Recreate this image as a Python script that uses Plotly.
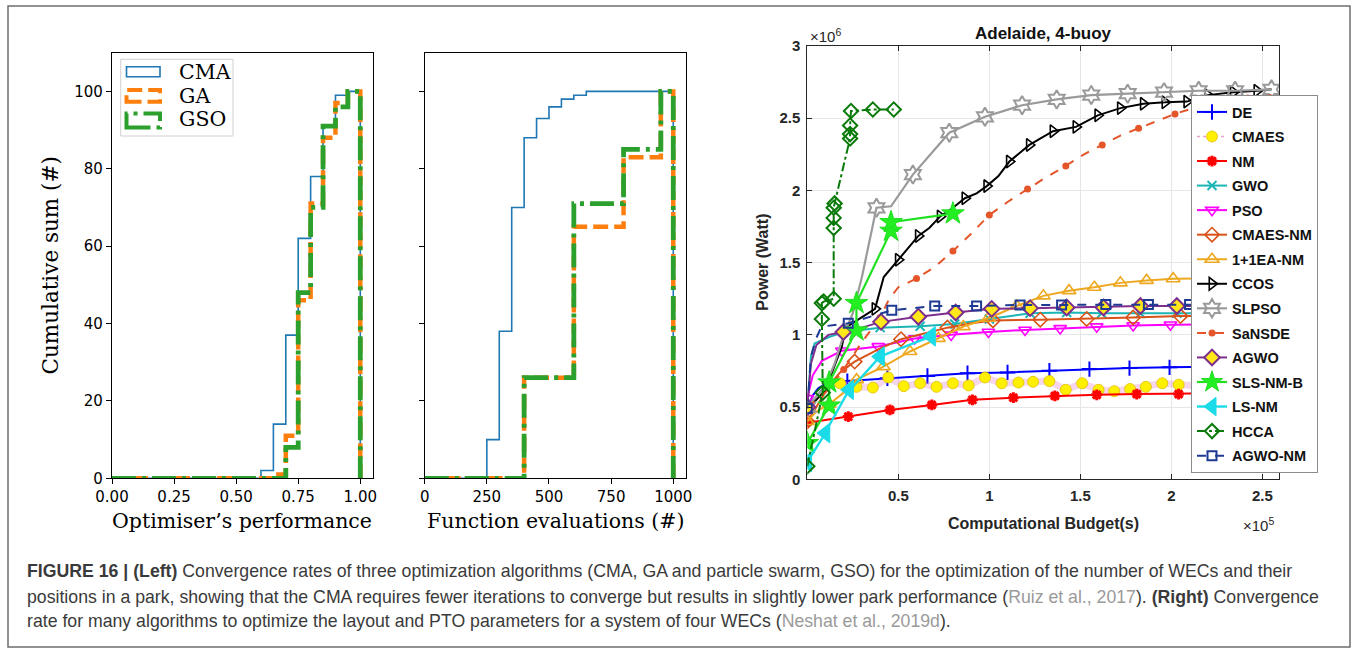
import plotly.graph_objects as go

W, H = 1358, 650

# ---------------- Left panel: cumulative histograms over optimiser's performance
perf_edges = [0.00, 0.05, 0.10, 0.15, 0.20, 0.25, 0.30, 0.35, 0.40, 0.45, 0.50,
              0.55, 0.60, 0.65, 0.70, 0.75, 0.80, 0.85, 0.90, 0.95, 1.00]
perf_cma = [0, 0, 0, 0, 0, 0, 0, 0, 0, 0, 0, 0, 2, 14, 37, 62, 78, 91, 99, 100]
perf_ga = [0, 0, 0, 0, 0, 0, 0, 0, 0, 0, 0, 0, 0, 1, 11, 46, 71, 88, 97, 100]
perf_gso = [0, 0, 0, 0, 0, 0, 0, 0, 0, 0, 0, 0, 0, 0, 8, 48, 70, 91, 96, 100]

# ---------------- Middle panel: cumulative histograms over function evaluations
eval_edges = [0, 50, 100, 150, 200, 250, 300, 350, 400, 450, 500,
              550, 600, 650, 700, 750, 800, 850, 900, 950, 1000]
eval_cma = [0, 0, 0, 0, 0, 10, 38, 70, 88, 93, 96, 98, 99, 100, 100, 100, 100, 100, 100, 100]
eval_ga = [0, 0, 0, 0, 0, 0, 0, 0, 26, 26, 26, 26, 65, 65, 65, 65, 83, 83, 83, 100]
eval_gso = [0, 0, 0, 0, 0, 0, 0, 0, 26, 26, 26, 26, 71, 71, 71, 71, 85, 85, 85, 100]

hist_names = ["CMA", "GA", "GSO"]
cum_ticks = [0, 20, 40, 60, 80, 100]
perf_ticks = [0.0, 0.25, 0.5, 0.75, 1.0]
perf_ticktext = ["0.00", "0.25", "0.50", "0.75", "1.00"]
eval_ticks = [0, 250, 500, 750, 1000]

# ---------------- Right panel: power (x10^6 W) vs computational budget (x10^5 s)
de_x = [0.0, 0.03, 0.06, 0.1, 0.22, 0.44, 0.66, 0.88, 1.1, 1.33, 1.55, 1.77, 1.99, 2.21, 2.43, 2.55]
de_y = [0.49, 0.58, 0.63, 0.66, 0.68, 0.70, 0.715, 0.735, 0.74, 0.752, 0.763, 0.77, 0.775, 0.78, 0.785, 0.785]
de_mk = [4, 5, 6, 7, 8, 9, 10, 11, 12, 13, 14]

cmaes_x = [0.1, 0.18, 0.27, 0.36, 0.445, 0.53, 0.62, 0.71, 0.8, 0.886, 0.976, 1.068, 1.16, 1.24,
           1.33, 1.42, 1.51, 1.6, 1.686, 1.773, 1.86, 1.95, 2.04, 2.13]
cmaes_y = [0.66, 0.665, 0.64, 0.635, 0.705, 0.645, 0.665, 0.64, 0.665, 0.65, 0.705, 0.665, 0.67, 0.675,
           0.68, 0.62, 0.665, 0.62, 0.61, 0.625, 0.64, 0.665, 0.655, 0.65]
cmaes_mk = list(range(1, 23))

nm_x = [0.0, 0.05, 0.1, 0.225, 0.454, 0.684, 0.907, 1.132, 1.36, 1.59, 1.81, 2.04, 2.27, 2.5, 2.55]
nm_y = [0.4, 0.4, 0.41, 0.434, 0.48, 0.515, 0.55, 0.565, 0.577, 0.585, 0.59, 0.59, 0.595, 0.6, 0.6]
nm_mk = [0, 3, 4, 5, 6, 7, 8, 9, 10, 11, 12, 13]

gwo_x = [0.0, 0.02, 0.04, 0.12, 0.2, 0.4, 0.62, 0.81, 1.0, 1.224, 1.425, 1.617, 1.83, 2.03, 2.24, 2.45, 2.55]
gwo_y = [0.5, 0.85, 0.94, 0.985, 1.02, 1.05, 1.06, 1.075, 1.11, 1.15, 1.155, 1.15, 1.15, 1.15, 1.15, 1.15, 1.15]
gwo_mk = [4, 5, 6, 7, 8, 9, 10, 11, 12, 13, 14, 15]

pso_x = [0.0, 0.03, 0.08, 0.19, 0.39, 0.59, 0.79, 0.995, 1.196, 1.389, 1.59, 1.79, 1.995, 2.2, 2.4, 2.55]
pso_y = [0.56, 0.72, 0.82, 0.89, 0.92, 0.975, 1.0, 1.02, 1.034, 1.045, 1.057, 1.065, 1.07, 1.07, 1.075, 1.075]
pso_mk = [0, 3, 4, 5, 6, 7, 8, 9, 10, 11, 12, 13, 14]

cmaesnm_x = [0.0, 0.05, 0.12, 0.18, 0.26, 0.39, 0.515, 0.64, 0.77, 0.9, 1.02, 1.28, 1.535, 1.79, 2.05, 2.3, 2.55]
cmaesnm_y = [0.4, 0.5, 0.65, 0.74, 0.815, 0.9, 0.97, 1.01, 1.05, 1.08, 1.1, 1.105, 1.11, 1.12, 1.13, 1.13, 1.13]
cmaesnm_mk = [0, 4, 6, 8, 10, 11, 12, 13, 14, 15]

ea_x = [0.0, 0.05, 0.12, 0.2, 0.271, 0.418, 0.564, 0.72, 0.857, 0.995, 1.15, 1.297, 1.438, 1.577,
        1.72, 1.864, 2.01, 2.16, 2.31, 2.55]
ea_y = [0.4, 0.47, 0.52, 0.6, 0.69, 0.78, 0.885, 0.976, 1.057, 1.115, 1.2, 1.27, 1.306, 1.33,
        1.36, 1.377, 1.389, 1.39, 1.39, 1.39]
ea_mk = [0, 2, 4, 5, 6, 7, 8, 9, 10, 11, 12, 13, 14, 15, 16, 17, 18]

ccos_x = [0.0, 0.05, 0.1, 0.15, 0.19, 0.21, 0.26, 0.34, 0.372, 0.42, 0.5, 0.55, 0.61, 0.67, 0.73, 0.8,
          0.866, 0.93, 0.986, 1.05, 1.11, 1.22, 1.35, 1.476, 1.596, 1.72, 1.846, 1.965, 2.085, 2.2,
          2.34, 2.47, 2.55]
ccos_y = [0.5, 0.55, 0.62, 0.79, 0.92, 1.05, 1.09, 1.15, 1.18, 1.4, 1.52, 1.6, 1.685, 1.74, 1.82, 1.88,
          1.946, 1.98, 2.03, 2.1, 2.2, 2.315, 2.41, 2.44, 2.52, 2.57, 2.6, 2.61, 2.615, 2.66,
          2.68, 2.69, 2.70]
ccos_mk = [8, 10, 12, 14, 16, 18, 20, 21, 22, 23, 24, 25, 26, 27, 28, 29, 30, 31]

slpso_x = [0.0, 0.1, 0.15, 0.2, 0.25, 0.3, 0.38, 0.46, 0.58, 0.78, 0.976, 1.18, 1.37, 1.56, 1.76,
           1.96, 2.15, 2.35, 2.55]
slpso_y = [0.5, 0.65, 0.8, 1.0, 1.15, 1.4, 1.88, 1.89, 2.11, 2.4, 2.51, 2.59, 2.63, 2.66, 2.67,
           2.68, 2.69, 2.69, 2.70]
slpso_mk = [0, 6, 8, 9, 10, 11, 12, 13, 14, 15, 16, 17, 18]

sansde_x = [0.0, 0.1, 0.2, 0.3, 0.4, 0.45, 0.5, 0.6, 0.7, 0.8, 0.9, 1.0, 1.1, 1.21, 1.31, 1.42, 1.52,
            1.62, 1.72, 1.82, 1.92, 2.02, 2.12, 2.22, 2.32, 2.42, 2.55]
sansde_y = [0.5, 0.6, 0.76, 0.95, 1.12, 1.25, 1.33, 1.39, 1.47, 1.58, 1.7, 1.83, 1.92, 2.01, 2.09,
            2.17, 2.25, 2.315, 2.38, 2.43, 2.48, 2.53, 2.57, 2.6, 2.62, 2.64, 2.66]
sansde_mk = [2, 4, 7, 9, 11, 13, 15, 17, 19, 21, 23, 25]

agwo_x = [0.0, 0.02, 0.05, 0.116, 0.198, 0.3, 0.405, 0.61, 0.815, 1.013, 1.224, 1.425, 1.627, 1.83,
          2.03, 2.23, 2.43, 2.55]
agwo_y = [0.5, 0.8, 0.93, 1.0, 1.02, 1.05, 1.09, 1.126, 1.155, 1.18, 1.185, 1.19, 1.19, 1.2,
          1.2, 1.2, 1.2, 1.2]
agwo_mk = [0, 4, 6, 7, 8, 9, 10, 11, 12, 13, 14, 15, 16]

slsnmb_x = [0.0, 0.12, 0.12, 0.27, 0.27, 0.46, 0.46, 0.8]
slsnmb_y = [0.25, 0.51, 0.67, 1.03, 1.22, 1.72, 1.78, 1.84]
slsnmb_mk = [0, 1, 2, 3, 4, 5, 6, 7]

lsnm_x = [0.0, 0.1, 0.11, 0.23, 0.25, 0.4, 0.46, 0.68]
lsnm_y = [0.12, 0.32, 0.35, 0.62, 0.64, 0.85, 0.88, 0.99]
lsnm_mk = [0, 1, 3, 5, 7]

hcca_x = [0.0, 0.085, 0.08, 0.08, 0.09, 0.145, 0.145, 0.145, 0.145, 0.15, 0.235, 0.235, 0.235,
          0.24, 0.36, 0.475]
hcca_y = [0.09, 0.6, 1.11, 1.22, 1.23, 1.25, 1.74, 1.81, 1.88, 1.91, 2.36, 2.39, 2.45,
          2.55, 2.56, 2.56]
hcca_mk = list(range(16))

agwonm_x = [0.0, 0.01, 0.02, 0.05, 0.078, 0.225, 0.464, 0.70, 0.93, 1.169, 1.397, 1.64, 1.874,
            2.1, 2.33, 2.55]
agwonm_y = [0.49, 0.7, 0.85, 0.98, 1.057, 1.08, 1.17, 1.2, 1.2, 1.207, 1.207, 1.21, 1.21,
            1.21, 1.21, 1.21]
agwonm_mk = [0, 5, 6, 7, 8, 9, 10, 11, 12, 13, 14]

power_ticks = [0, 0.5, 1, 1.5, 2, 2.5, 3]
power_ticktext = ["0", "0.5", "1", "1.5", "2", "2.5", "3"]
budget_ticks = [0.5, 1, 1.5, 2, 2.5]
budget_ticktext = ["0.5", "1", "1.5", "2", "2.5"]

# ---------------- styles
hist_styles = {
    "CMA": dict(color="#1f77b4", width=1.6, dash="solid"),
    "GA": dict(color="#ff7f0e", width=4.5, dash="15px,6px"),
    "GSO": dict(color="#2ca02c", width=4.8, dash="24px,6px,4px,6px"),
}

series = [
    ("DE", de_x, de_y, de_mk, dict(color="#0000FF", width=2, dash="solid"),
     dict(symbol="cross-thin-open", size=11, color="#0000FF", line=dict(color="#0000FF", width=2))),
    ("CMAES", cmaes_x, cmaes_y, cmaes_mk, dict(color="rgba(225,120,190,0.30)", width=7, dash="solid"),
     dict(symbol="circle", size=11, color="#FFF000", line=dict(color="#E0C000", width=0.8))),
    ("NM", nm_x, nm_y, nm_mk, dict(color="#FF0000", width=2, dash="solid"),
     dict(symbol="asterisk-open", size=9, color="#FF0000", line=dict(color="#FF0000", width=3))),
    ("GWO", gwo_x, gwo_y, gwo_mk, dict(color="#1CB5B5", width=2, dash="solid"),
     dict(symbol="x-thin-open", size=9, color="#1CB5B5", line=dict(color="#1CB5B5", width=2))),
    ("PSO", pso_x, pso_y, pso_mk, dict(color="#FF00FF", width=2, dash="solid"),
     dict(symbol="triangle-down-open", size=11, color="#FF00FF", line=dict(color="#FF00FF", width=1.6))),
    ("CMAES-NM", cmaesnm_x, cmaesnm_y, cmaesnm_mk, dict(color="#D95319", width=2, dash="solid"),
     dict(symbol="diamond-open", size=11, color="#D95319", line=dict(color="#D95319", width=1.6))),
    ("1+1EA-NM", ea_x, ea_y, ea_mk, dict(color="#EDA820", width=2, dash="solid"),
     dict(symbol="triangle-up-open", size=12, color="#EDA820", line=dict(color="#EDA820", width=1.6))),
    ("CCOS", ccos_x, ccos_y, ccos_mk, dict(color="#000000", width=2, dash="solid"),
     dict(symbol="triangle-right-open", size=11, color="#000000", line=dict(color="#000000", width=1.6))),
    ("SLPSO", slpso_x, slpso_y, slpso_mk, dict(color="#9A9A9A", width=2.2, dash="solid"),
     dict(symbol="hexagram-open", size=14, color="#9A9A9A", line=dict(color="#9A9A9A", width=2))),
    ("SaNSDE", sansde_x, sansde_y, sansde_mk, dict(color="#E4562A", width=2, dash="dash"),
     dict(symbol="circle", size=7, color="#E4562A", line=dict(width=0))),
    ("AGWO", agwo_x, agwo_y, agwo_mk, dict(color="#7E2F8E", width=2, dash="solid"),
     dict(symbol="diamond", size=12, color="#FFE81A", line=dict(color="#7E2F8E", width=2))),
    ("SLS-NM-B", slsnmb_x, slsnmb_y, slsnmb_mk, dict(color="#22E022", width=2.2, dash="solid"),
     dict(symbol="star", size=17, color="#22EE22", line=dict(color="#22DD22", width=1))),
    ("LS-NM", lsnm_x, lsnm_y, lsnm_mk, dict(color="#1ADCE8", width=2.4, dash="solid"),
     dict(symbol="triangle-left", size=17, color="#1ADCE8", line=dict(color="#1ADCE8", width=1))),
    ("HCCA", hcca_x, hcca_y, hcca_mk, dict(color="#0A7A0A", width=2, dash="dashdot"),
     dict(symbol="diamond-open", size=11, color="#0A7A0A", line=dict(color="#0A7A0A", width=2))),
    ("AGWO-NM", agwonm_x, agwonm_y, agwonm_mk, dict(color="#1F3A93", width=2, dash="dash"),
     dict(symbol="square-open", size=9, color="#1F3A93", line=dict(color="#1F3A93", width=2))),
]
legend_line_override = {"CMAES": dict(color="#E8A0C8", width=1.5, dash="dot")}


def fx(px):
    return px / W


def fy(py):
    return 1 - py / H


def step_path(edges, counts):
    xs = [edges[0]] + edges[:-1] + [edges[-1], edges[-1]]
    ys = [0] + counts + [counts[-1], 0]
    return xs, ys


fig = go.Figure()

for edges, data, ax in [(perf_edges, [perf_cma, perf_ga, perf_gso], ("x", "y")),
                        (eval_edges, [eval_cma, eval_ga, eval_gso], ("x2", "y2"))]:
    for name, counts in zip(hist_names, data):
        xs, ys = step_path(edges, counts)
        fig.add_trace(go.Scatter(x=xs, y=ys, mode="lines", line=dict(shape="hv", **hist_styles[name]),
                                 xaxis=ax[0], yaxis=ax[1], showlegend=False, hoverinfo="skip"))

for name, xs, ys, mk, lstyle, mstyle in series:
    fig.add_trace(go.Scatter(x=xs, y=ys, mode="lines", line=lstyle, xaxis="x3", yaxis="y3",
                             showlegend=False, legendgroup=name, hoverinfo="skip"))
    fig.add_trace(go.Scatter(x=[xs[i] for i in mk], y=[ys[i] for i in mk], mode="markers",
                             marker=mstyle, xaxis="x3", yaxis="y3", showlegend=False,
                             legendgroup=name, hoverinfo="skip"))
for name, xs, ys, mk, lstyle, mstyle in series:
    ls = legend_line_override.get(name, lstyle)
    fig.add_trace(go.Scatter(x=[None], y=[None], mode="lines+markers", name=name, line=ls,
                             marker=mstyle, xaxis="x3", yaxis="y3", legendgroup=name,
                             showlegend=True))

mpl_font = dict(family="DejaVu Sans", size=15, color="black")
mpl_axis = dict(showline=True, linecolor="black", linewidth=1.3, mirror=True, ticks="outside",
                ticklen=5, tickwidth=1.2, tickcolor="black", tickfont=mpl_font,
                showgrid=False, zeroline=False, automargin=False)
mat_font = dict(family="Liberation Sans", size=15, color="#262626", weight="bold")
mat_axis = dict(showline=True, linecolor="#262626", linewidth=1, mirror="ticks", ticks="inside",
                ticklen=5, tickwidth=1, tickcolor="#262626", tickfont=mat_font, showgrid=True,
                gridcolor="#E6E6E6", gridwidth=1, zeroline=False, ticklabelstandoff=3,
                automargin=False)

fig.update_layout(
    width=W, height=H, margin=dict(l=0, r=0, t=0, b=0, autoexpand=False),
    paper_bgcolor="white", plot_bgcolor="white",
    xaxis=dict(domain=[fx(112), fx(372.7)], range=[0, 1.05], tickvals=perf_ticks,
               ticktext=perf_ticktext, anchor="y", **mpl_axis),
    yaxis=dict(domain=[fy(478.3), fy(52.7)], range=[0, 110], tickvals=cum_ticks, anchor="x", **mpl_axis),
    xaxis2=dict(domain=[fx(424.7), fx(685.7)], range=[0, 1050], tickvals=eval_ticks, anchor="y2", **mpl_axis),
    yaxis2=dict(domain=[fy(478.3), fy(52.7)], range=[0, 110], tickvals=cum_ticks, showticklabels=False,
                anchor="x2", **mpl_axis),
    xaxis3=dict(domain=[fx(807.3), fx(1279.3)], range=[0, 2.593], tickvals=budget_ticks,
                ticktext=budget_ticktext, anchor="y3", **mat_axis),
    yaxis3=dict(domain=[fy(479.3), fy(46)], range=[0, 3], tickvals=power_ticks,
                ticktext=power_ticktext, anchor="x3", **mat_axis),
    legend=dict(x=fx(1191), y=fy(95), xanchor="left", yanchor="top", bgcolor="white",
                bordercolor="#8C8C8C", borderwidth=1, tracegroupgap=2.7, itemwidth=30,
                font=dict(family="Liberation Sans", size=14.5, color="#111111", weight="bold")),
)

serif = "DejaVu Serif"
ann = []
ann.append(dict(text="Cumulative sum (#)", x=fx(50), y=fy(265.5), textangle=-90,
                font=dict(family=serif, size=21.5, color="black")))
ann.append(dict(text="Optimiser’s performance", x=fx(242.4), y=fy(521),
                font=dict(family=serif, size=20.5, color="black")))
ann.append(dict(text="Function evaluations (#)", x=fx(555.2), y=fy(521),
                font=dict(family=serif, size=20.5, color="black")))
for name, py in zip(hist_names, [72, 95.7, 119]):
    ann.append(dict(text=name, x=fx(176.5), y=fy(py), xanchor="left",
                    font=dict(family=serif, size=20.5, color="black")))
ann.append(dict(text="Adelaide, 4-buoy", x=fx(1043), y=fy(34),
                font=dict(family="Liberation Sans", size=17, color="#111111", weight="bold")))
ann.append(dict(text="Power (Watt)", x=fx(763), y=fy(262.7), textangle=-90,
                font=dict(family="Liberation Sans", size=16, color="#262626", weight="bold")))
ann.append(dict(text="Computational Budget(s)", x=fx(1043), y=fy(523),
                font=dict(family="Liberation Sans", size=16, color="#262626", weight="bold")))
ann.append(dict(text="×10<sup>6</sup>", x=fx(808), y=fy(36), xanchor="left",
                font=dict(family="Liberation Sans", size=15, color="#262626")))
ann.append(dict(text="×10<sup>5</sup>", x=fx(1258), y=fy(524),
                font=dict(family="Liberation Sans", size=15, color="#262626")))
cap_font = dict(family="Liberation Sans", size=17.7, color="#3a3a3a")
cite = "<span style='color:#9a9a9a'>"
caption_lines = [
    "<b>FIGURE 16 | (Left)</b> Convergence rates of three optimization algorithms (CMA, GA and particle "
    "swarm, GSO) for the optimization of the number of WECs and their",
    "positions in a park, showing that the CMA requires fewer iterations to converge but results in "
    "slightly lower park performance (" + cite + "Ruiz et al., 2017</span>). <b>(Right)</b> Convergence",
    "rate for many algorithms to optimize the layout and PTO parameters for a system of four WECs ("
    + cite + "Neshat et al., 2019d</span>).",
]
for line, py in zip(caption_lines, [571, 597, 621]):
    ann.append(dict(text=line, x=fx(25), y=fy(py), xanchor="left", font=cap_font))

for a in ann:
    a.update(xref="paper", yref="paper", showarrow=False)
    a.setdefault("xanchor", "center")
    a.setdefault("yanchor", "middle")
fig.update_layout(annotations=ann)

shapes = []
shapes.append(dict(type="rect", x0=fx(8), x1=fx(1350), y0=fy(647), y1=fy(6),
                   line=dict(color="#6e6e6e", width=1.5), fillcolor="rgba(0,0,0,0)", layer="below"))
shapes.append(dict(type="rect", x0=fx(120.7), x1=fx(233), y0=fy(136), y1=fy(59.3),
                   line=dict(color="#d0d0d0", width=1), fillcolor="rgba(255,255,255,0.8)"))
for name, (t, b) in zip(hist_names, [(66.7, 76.7), (90, 101.7), (113.5, 127.5)]):
    st = hist_styles[name]
    shapes.append(dict(type="rect", x0=fx(126.5), x1=fx(160), y0=fy(b), y1=fy(t),
                       line=dict(color=st["color"], width=min(st["width"], 4), dash=st["dash"]),
                       fillcolor="rgba(0,0,0,0)"))
for s in shapes:
    s.update(xref="paper", yref="paper")
fig.update_layout(shapes=shapes)

fig.write_html("out.html")
